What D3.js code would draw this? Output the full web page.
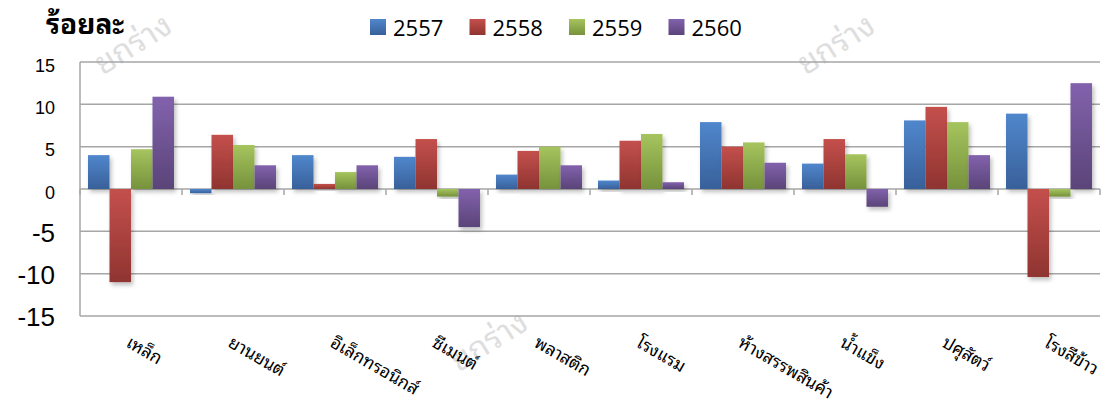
<!DOCTYPE html>
<html><head><meta charset="utf-8">
<script src="https://cdn.jsdelivr.net/npm/d3@7"></script>
<style>
html,body{margin:0;padding:0;background:#fff;}
svg{display:block;}
</style>
</head><body>
<svg id="chart" width="1107" height="405"></svg>
<script>
const categories = ["เหล็ก","ยานยนต์","อิเล็กทรอนิกส์","ซีเมนต์","พลาสติก","โรงแรม","ห้างสรรพสินค้า","น้ำแข็ง","ปศุสัตว์","โรงสีข้าว"];
const seriesNames = ["2557","2558","2559","2560"];
const v2557 = [4.0,-0.5,4.0,3.8,1.7,1.0,7.9,3.0,8.1,8.9];
const v2558 = [-11.0,6.4,0.6,5.9,4.5,5.7,5.0,5.9,9.7,-10.4];
const v2559 = [4.7,5.2,2.0,-0.9,5.0,6.5,5.5,4.1,7.9,-0.9];
const v2560 = [10.9,2.8,2.8,-4.5,2.8,0.8,3.1,-2.1,4.0,12.5];
const yTicks = [15,10,5,0,-5,-10,-15];
const yTitle = "ร้อยละ";
const watermark = "ยกร่าง";

(function(){
const seriesValues = [v2557,v2558,v2559,v2560];
const colorsLight = ["#5087cc","#c4504c","#a6c45e","#8262ad"];
const colorsDark  = ["#38609a","#8f3431","#76923c","#5a4478"];

const svg = d3.select("#chart");
const thaiFont = "'Noto Sans Thai Looped','Loma','Garuda','Norasi','Tlwg Typo','Waree','Kinnari','Noto Serif Thai','Noto Sans Thai','Tahoma',sans-serif";

const pLeft = 80, pRight = 1100, pTop = 62, pBottom = 316;
const x0 = d3.scaleBand().domain(categories).range([pLeft,pRight]).paddingInner(0.157).paddingOuter(0.0785);
const x1 = d3.scaleBand().domain(seriesNames).range([0,x0.bandwidth()]).padding(0);
const y = d3.scaleLinear().domain([-15,15]).range([pBottom,pTop]);

const defs = svg.append("defs");
seriesNames.forEach((s,i)=>{
  const g = defs.append("linearGradient").attr("id","grad"+i).attr("x1",0).attr("y1",0).attr("x2",0).attr("y2",1);
  g.append("stop").attr("offset","0%").attr("stop-color",colorsLight[i]);
  g.append("stop").attr("offset","100%").attr("stop-color",colorsDark[i]);
});
const f = defs.append("filter").attr("id","shadow").attr("x","-20%").attr("y","-20%").attr("width","150%").attr("height","150%");
f.append("feDropShadow").attr("dx",2).attr("dy",3).attr("stdDeviation",2).attr("flood-color","#000").attr("flood-opacity",0.25);

// watermarks
[[134,46],[837,46],[490,343]].forEach(p=>{
  svg.append("text").attr("transform",`translate(${p[0]},${p[1]}) rotate(-32)`)
    .attr("text-anchor","middle").attr("dominant-baseline","middle")
    .style("font-family",thaiFont).style("font-size","32px").style("fill","#dedede")
    .text(watermark);
});

// gridlines
svg.append("g").selectAll("line").data(yTicks).join("line")
  .attr("x1",pLeft).attr("x2",pRight).attr("y1",d=>y(d)).attr("y2",d=>y(d))
  .attr("stroke","#a6a6a6").attr("stroke-width",1.5);
// left axis line
svg.append("line").attr("x1",pLeft).attr("x2",pLeft).attr("y1",y(15)).attr("y2",y(-15))
  .attr("stroke","#a6a6a6").attr("stroke-width",1.5);

// category ticks at zero line
const step = x0.step();
const tickPos = categories.map(c=>x0(c) - step*x0.paddingInner()/2).concat([pRight]);
svg.append("g").selectAll("line").data(tickPos).join("line")
  .attr("x1",d=>d).attr("x2",d=>d).attr("y1",y(0)).attr("y2",y(0)+6)
  .attr("stroke","#a6a6a6").attr("stroke-width",1.5);

// bars
const groups = svg.append("g").selectAll("g").data(categories).join("g")
  .attr("transform",c=>`translate(${x0(c)},0)`);
groups.selectAll("rect").data((c,ci)=>seriesNames.map((s,si)=>({s,si,v:seriesValues[si][ci]}))).join("rect")
  .attr("x",d=>x1(d.s)).attr("width",x1.bandwidth())
  .attr("y",d=>y(Math.max(0,d.v))).attr("height",d=>Math.abs(y(d.v)-y(0)))
  .attr("fill",d=>`url(#grad${d.si})`).attr("filter","url(#shadow)");

// y axis labels
const yAxis = svg.append("g").attr("transform",`translate(55,0)`)
  .call(d3.axisLeft(y).tickValues(yTicks).tickSize(0).tickPadding(0).tickFormat(d=>String(d)));
yAxis.select(".domain").remove();
yAxis.selectAll("text")
  .style("font-family","'Liberation Sans',Arial,sans-serif")
  .style("font-size",d=>d<0?"26px":"18px")
  .attr("fill","#000")
  .attr("dy",d=>d<0?"0.38em":"0.5em");

// x labels
svg.append("g").selectAll("text").data(categories).join("text")
  .attr("transform",c=>`translate(${x0(c)+x0.bandwidth()/2-6},${y(-15)+30}) rotate(30)`)
  .attr("text-anchor","start")
  .style("font-family",thaiFont).style("font-size","17.5px").style("fill","#000")
  .text(c=>c);

// title
svg.append("text").attr("x",46).attr("y",34).style("font-family",thaiFont)
  .style("font-size","28px").style("font-weight","bold").style("fill","#000").text(yTitle);

// legend
const leg = svg.append("g").selectAll("g").data(seriesNames).join("g")
  .attr("transform",(d,i)=>`translate(${370+i*99.5},19)`);
leg.append("rect").attr("width",16).attr("height",16).attr("fill",(d,i)=>`url(#grad${i})`);
leg.append("text").attr("x",23).attr("y",17).style("font-family","'Open Sans','Noto Sans',sans-serif")
  .style("font-size","22px").style("fill","#000").text(d=>d);
})();
</script>
</body></html>
